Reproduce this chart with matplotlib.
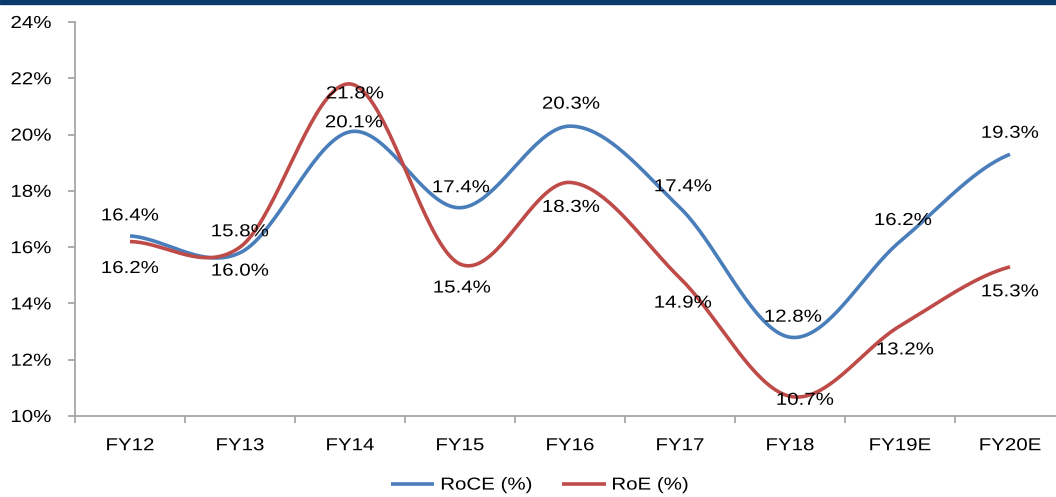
import numpy as np
import matplotlib.pyplot as plt
from matplotlib.patches import Rectangle
from matplotlib.patheffects import AbstractPathEffect
from matplotlib.transforms import Affine2D
from matplotlib.text import Text

plt.rcParams['font.family'] = ['Liberation Sans', 'DejaVu Sans']

years = ['FY12', 'FY13', 'FY14', 'FY15', 'FY16', 'FY17', 'FY18', 'FY19E', 'FY20E']
roce = [16.4, 15.8, 20.1, 17.4, 20.3, 17.4, 12.8, 16.2, 19.3]
roe = [16.2, 16.0, 21.8, 15.4, 18.3, 14.9, 10.7, 13.2, 15.3]

# label offsets in pixels (dx, dy)
roce_off = [(0, 20), (0, 21), (4, 9), (1, 20), (1, 22), (3, 21), (3, 20), (3, 21), (0, 21)]
roe_off = [(0, -27), (0, -24), (5, -10), (2, -24), (1, -25), (3, -25), (15, -4), (5, -24), (0, -25)]

BLUE = '#4a7ebb'
RED = '#be4b48'
GREY = '#a6a6a6'
FS = 12.5


class Stretch(AbstractPathEffect):
    """Widen text glyphs horizontally about the left, centre or right edge."""

    def __init__(self, sx=1.18, anchor='center'):
        super().__init__()
        self.sx = sx
        self.anchor = anchor

    def draw_path(self, renderer, gc, tpath, affine, rgbFace=None):
        ext = tpath.get_extents()
        cx = {'left': ext.x0, 'right': ext.x1}.get(self.anchor, (ext.x0 + ext.x1) / 2)
        t = Affine2D().translate(-cx, 0).scale(self.sx, 1).translate(cx, 0)
        renderer.draw_path(gc, t.transform_path(tpath), affine, rgbFace)


def smooth(y, n=40):
    # piecewise cubic bezier through the points, catmull-rom style handles
    y = np.asarray(y, dtype=float)
    p = np.concatenate([[y[0]], y, [y[-1]]])
    xs, ys = [], []
    t = np.linspace(0, 1, n)
    for i in range(len(y) - 1):
        p0, p3 = y[i], y[i + 1]
        p1 = p0 + (p[i + 2] - p[i]) / 6.0
        p2 = p3 - (p[i + 3] - p[i + 1]) / 6.0
        by = (1 - t)**3 * p0 + 3 * (1 - t)**2 * t * p1 + 3 * (1 - t) * t**2 * p2 + t**3 * p3
        xs.append(i + t)
        ys.append(by)
    return np.concatenate(xs), np.concatenate(ys)


fig = plt.figure(figsize=(10.56, 4.97), dpi=100)
ax = fig.add_axes([75 / 1056, 81 / 497, 990 / 1056, 394 / 497])

fig.patches.append(Rectangle((0, 1 - 3.5 / 497), 1, 3.5 / 497, transform=fig.transFigure,
                             color='#0b3a6c', zorder=5))

x = np.arange(len(years))
sx, sy = smooth(roce)
ax.plot(sx, sy, color=BLUE, lw=2.6, label='RoCE (%)', solid_capstyle='butt')
sx, sy = smooth(roe)
ax.plot(sx, sy, color=RED, lw=2.6, label='RoE (%)', solid_capstyle='butt')

for i in range(len(years)):
    ax.annotate('%.1f%%' % roce[i], (x[i], roce[i]), xytext=roce_off[i],
                textcoords='offset pixels', ha='center', va='center', fontsize=FS)
    ax.annotate('%.1f%%' % roe[i], (x[i], roe[i]), xytext=roe_off[i],
                textcoords='offset pixels', ha='center', va='center', fontsize=FS)

ax.set_ylim(10, 24)
ax.set_yticks(np.arange(10, 25, 2))
ax.set_yticklabels(['%d%%' % v for v in range(10, 25, 2)], fontsize=FS)
ax.set_xlim(-0.5, 8.5)
ax.set_xticks(np.arange(-0.5, 9, 1))
ax.set_xticklabels([])
ax.set_xticks(x, minor=True)
ax.set_xticklabels(years, minor=True, fontsize=FS)

for s in ['top', 'right']:
    ax.spines[s].set_visible(False)
for s in ['left', 'bottom']:
    ax.spines[s].set_color(GREY)
    ax.spines[s].set_linewidth(1.3)
ax.tick_params(axis='y', direction='out', length=5, width=1.3, color=GREY, pad=12)
ax.tick_params(axis='x', which='major', direction='out', length=5, width=1.3, color=GREY)
ax.tick_params(axis='x', which='minor', length=0, pad=16)

leg = ax.legend(loc='center left', bbox_to_anchor=(391 / 1056, 12 / 497),
                bbox_transform=fig.transFigure, ncol=2, frameon=False, fontsize=FS,
                handlelength=2.5, handletextpad=0.35, columnspacing=2.5,
                borderpad=0, borderaxespad=0)

# widen all text a little
for t in ax.get_yticklabels():
    t.set_path_effects([Stretch(anchor='right')])
for t in leg.get_texts():
    t.set_path_effects([Stretch(anchor='left')])
for t in fig.findobj(Text):
    if not t.get_path_effects():
        t.set_path_effects([Stretch()])

fig.savefig('out.png', dpi=100)
